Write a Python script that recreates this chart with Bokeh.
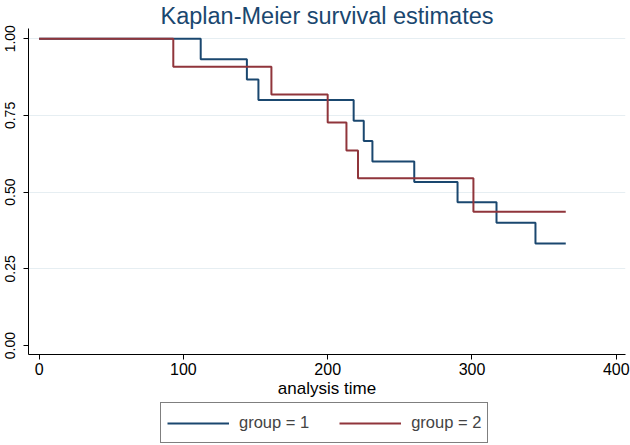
from bokeh.plotting import figure
from bokeh.models import (Range1d, FixedTicker, Legend, LegendItem)
from bokeh.layouts import column
from bokeh.embed import file_html
from bokeh.resources import INLINE

# --- data ---
g1_time = [0, 112, 144, 152, 218, 225, 231, 260, 290, 317, 344, 365]
g1_surv = [1.0, 0.933, 0.867, 0.800, 0.733, 0.667, 0.600, 0.533, 0.467, 0.400, 0.333, 0.333]
g2_time = [0, 93, 161, 200, 213, 221, 301, 365]
g2_surv = [1.0, 0.909, 0.818, 0.727, 0.636, 0.545, 0.436, 0.436]

x_ticks = [0, 100, 200, 300, 400]
y_ticks = [0.0, 0.25, 0.5, 0.75, 1.0]
y_tick_labels = ["0.00", "0.25", "0.50", "0.75", "1.00"]
series_names = ["group = 1", "group = 2"]

title_text = "Kaplan-Meier survival estimates"
x_label = "analysis time"

BLUE = "#1a476f"
RED = "#90353b"
FONT = "Liberation Sans"

p = figure(width=630, height=400, output_backend="svg", toolbar_location=None,
           x_range=Range1d(-7.35, 406.4), y_range=Range1d(-0.0292, 1.0334),
           min_border_left=28, min_border_right=5, min_border_top=0, min_border_bottom=44)

p.outline_line_color = None
p.background_fill_color = "white"
p.border_fill_color = "white"

p.title.text = title_text
p.title.align = "center"
p.title.text_font = FONT
p.title.text_font_size = "23.5px"
p.title.text_font_style = "normal"
p.title.text_color = BLUE
p.title.standoff = 0

r1 = p.step(g1_time, g1_surv, mode="after", line_color=BLUE, line_width=2)
r2 = p.step(g2_time, g2_surv, mode="after", line_color=RED, line_width=2)

# axes
xa = p.xaxis[0]
xa.ticker = FixedTicker(ticks=x_ticks)
xa.axis_label = x_label
ya = p.yaxis[0]
ya.ticker = FixedTicker(ticks=y_ticks)
ya.major_label_overrides = {t: l for t, l in zip(y_ticks, y_tick_labels)}
ya.major_label_orientation = "vertical"

for ax in (xa, ya):
    ax.axis_line_color = "black"
    ax.major_tick_line_color = "black"
    ax.minor_tick_line_color = None
    ax.major_tick_out = 5
    ax.major_tick_in = 0
    ax.major_label_text_font = FONT
    ax.major_label_text_font_size = "16px"
    ax.major_label_text_color = "black"
    ax.axis_label_text_font = FONT
    ax.axis_label_text_font_size = "17px"
    ax.axis_label_text_font_style = "normal"
    ax.axis_label_text_color = "black"
ya.major_label_text_font_size = "14px"
xa.major_label_standoff = 3
xa.axis_label_standoff = 1
ya.major_label_standoff = 8

p.xgrid.visible = False
p.ygrid.ticker = FixedTicker(ticks=y_ticks[1:])
p.ygrid.grid_line_color = "#e6eef2"
p.ygrid.grid_line_width = 1

# legend strip below the chart (its series are kept out of view; only the legend shows)
q = figure(width=630, height=45, output_backend="svg", toolbar_location=None,
           x_range=Range1d(0, 1), y_range=Range1d(5, 6),
           x_axis_type=None, y_axis_type=None,
           min_border_left=0, min_border_right=0, min_border_top=0, min_border_bottom=0)
q.outline_line_color = None
q.xgrid.visible = False
q.ygrid.visible = False
l1 = q.step(g1_time, g1_surv, mode="after", line_color=BLUE, line_width=2)
l2 = q.step(g2_time, g2_surv, mode="after", line_color=RED, line_width=2)
legend = Legend(items=[LegendItem(label=series_names[0], renderers=[l1]),
                       LegendItem(label=series_names[1], renderers=[l2])],
                orientation="horizontal", location=(132, 2),
                border_line_color="black", border_line_width=1.5,
                label_text_font=FONT, label_text_font_size="16.5px",
                glyph_width=62, glyph_height=20, label_height=27,
                label_standoff=10, spacing=30,
                padding=6, margin=0)
q.add_layout(legend)

open("out.html", "w").write(file_html(column(p, q, spacing=0), INLINE))
